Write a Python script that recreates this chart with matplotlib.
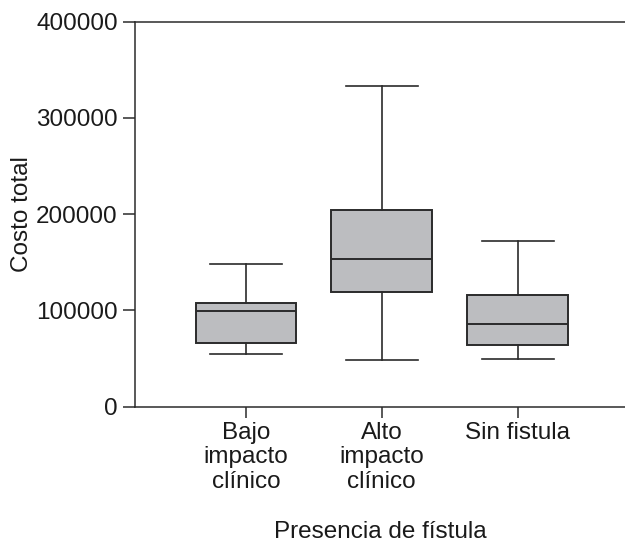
import matplotlib.pyplot as plt

plt.rcParams['font.family'] = ['Liberation Sans', 'DejaVu Sans']

groups = ['Bajo\nimpacto\nclínico', 'Alto\nimpacto\nclínico', 'Sin fistula']
whis_low = [55000, 48000, 49000]
q1 = [66000, 119000, 64500]
median = [99000, 153500, 86000]
q3 = [108000, 204500, 116000]
whis_high = [148000, 333700, 172000]

box_face = '#bcbdc0'
ink = '#2b2b2b'

stats = []
for i in range(len(groups)):
    stats.append({'whislo': whis_low[i], 'q1': q1[i], 'med': median[i],
                  'q3': q3[i], 'whishi': whis_high[i], 'fliers': []})

fig = plt.figure(figsize=(6.25, 5.45), dpi=100)
ax = fig.add_axes([0.216, 0.254, 0.784, 0.706])

ax.bxp(stats, positions=[1, 2, 3], widths=0.74, capwidths=0.53,
       patch_artist=True, showfliers=False,
       boxprops=dict(facecolor=box_face, edgecolor=ink, linewidth=1.4),
       medianprops=dict(color=ink, linewidth=1.4),
       whiskerprops=dict(color=ink, linewidth=1.2),
       capprops=dict(color=ink, linewidth=1.2))

ax.set_xlim(0.184, 3.79)
ax.set_ylim(0, 400000)
ax.set_yticks([0, 100000, 200000, 300000, 400000])
ax.set_yticklabels(['0', '100000', '200000', '300000', '400000'])
ax.set_xticks([1, 2, 3])
ax.set_xticklabels(groups, linespacing=1.15, va='top')

ax.spines['right'].set_visible(False)
for s in ['left', 'top', 'bottom']:
    ax.spines[s].set_color(ink)
    ax.spines[s].set_linewidth(1.1)

ax.tick_params(axis='both', colors=ink, labelcolor='#1a1a1a', labelsize=17.5,
               length=8.5, width=1.1, pad=4)
ax.tick_params(axis='x', length=8, pad=3)

ax.set_ylabel('Costo total', fontsize=17.5, color='#1a1a1a', labelpad=2)
ax.set_xlabel('Presencia de fístula', fontsize=17.5, color='#1a1a1a', labelpad=20)

fig.savefig('out.png', dpi=100)
